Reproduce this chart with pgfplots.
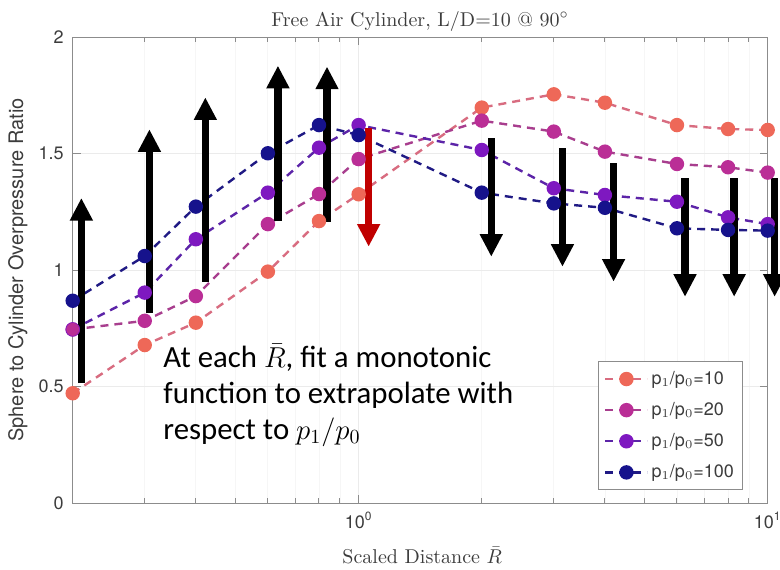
\documentclass[border=0pt]{standalone}
\usepackage{pgfplots}
\pgfplotsset{compat=1.18}
\usepackage{fontspec}
\usetikzlibrary{arrows.meta}
\newfontfamily\helv{TeX Gyre Heros}
\newfontfamily\calib{Carlito}

% marker fills and (slightly softer) line colours per pressure ratio
\definecolor{m10}{RGB}{238,104,88}
\definecolor{m20}{RGB}{186,46,150}
\definecolor{m50}{RGB}{126,24,192}
\definecolor{m100}{RGB}{22,18,140}
\definecolor{l10}{RGB}{216,108,128}
\definecolor{l20}{RGB}{168,62,142}
\definecolor{l50}{RGB}{92,36,168}
\definecolor{l100}{RGB}{32,26,132}
\definecolor{axgray}{RGB}{140,140,140}
\definecolor{txtgray}{RGB}{60,60,60}
\definecolor{arrowred}{RGB}{192,0,0}

% scaled distance vs. sphere/cylinder overpressure ratio
\pgfplotstableread{
R     p10    p20    p50    p100
0.2   0.471  0.745  0.745  0.868
0.3   0.678  0.782  0.903  1.060
0.4   0.774  0.888  1.132  1.272
0.6   0.993  1.197  1.332  1.501
0.8   1.210  1.326  1.525  1.622
1     1.325  1.476  1.622  1.579
2     1.697  1.641  1.515  1.332
3     1.754  1.594  1.351  1.286
4     1.718  1.508  1.322  1.267
6     1.622  1.455  1.293  1.179
8     1.605  1.441  1.226  1.172
10    1.601  1.418  1.197  1.169
}\ratios

\tikzset{
  bigarrow/.style={line width=3.7pt, -{Triangle[length=11.3pt,width=10.8pt]}},
}
\pgfplotsset{
  series/.style n args={2}{
    color=#1, line width=1.2pt, dash pattern=on 4pt off 3pt,
    mark=*, mark size=3pt, mark options={solid, draw=#2, fill=#2},
  },
  every axis title shift=0pt,
}

\begin{document}
\begin{tikzpicture}
\useasboundingbox (-36.35pt,-33pt) rectangle (353.65pt,251.5pt);
\begin{axis}[
  at={(0,0)}, anchor=south west,
  scale only axis, width=347.5pt, height=233pt,
  xmode=log, xmin=0.2, xmax=10, ymin=0, ymax=2,
  clip=false,
  axis line style={axgray, line width=0.5pt},
  tick style={axgray, line width=0.5pt},
  tick align=inside, tick pos=both,
  major tick length=4pt, minor tick length=2.5pt,
  xtick={1,10},
  xticklabels={10\textsuperscript{0},10\textsuperscript{1}},
  minor xtick={0.2,0.3,0.4,0.5,0.6,0.7,0.8,0.9,2,3,4,5,6,7,8,9},
  ytick={0,0.5,1,1.5,2},
  yticklabels={0,0.5,1,1.5,2},
  ticklabel style={font=\helv\fontsize{9}{10}\selectfont, text=txtgray},
  xticklabel style={yshift=-1pt},
  yticklabel style={xshift=-1pt},
  grid=both,
  major grid style={gray!16, line width=0.4pt},
  minor grid style={gray!7, line width=0.4pt},
  title={Free Air Cylinder, L/D=10 @ 90$^\circ$},
  title style={at={(axis description cs:0.5,1.0236)}, anchor=base,
    font=\fontsize{10}{12}\selectfont, text=txtgray},
  xlabel={Scaled Distance $\bar{R}$},
  xlabel style={at={(axis description cs:0.503,-0.13)}, anchor=base,
    font=\fontsize{10}{12}\selectfont, text=txtgray},
  ylabel={Sphere to Cylinder Overpressure Ratio},
  ylabel style={at={(axis description cs:-0.079,0.5)}, anchor=center,
    font=\helv\fontsize{10}{12}\selectfont, text=txtgray},
  legend style={at={(axis description cs:0.965,0.028)}, anchor=south east,
    draw=axgray, line width=0.5pt, fill=white,
    font=\helv\fontsize{9}{11}\selectfont, text=txtgray,
    row sep=4.5pt, inner sep=3pt,
    nodes={inner sep=1.5pt}},
  legend cell align=left,
  legend image code/.code={
    \draw[mark repeat=2, mark phase=2, #1]
      plot coordinates {(0pt,0pt) (10.5pt,0pt) (21pt,0pt)};
  },
]
\addplot[series={l10}{m10}]   table[x=R, y=p10]  {\ratios};
\addlegendentry{p$_1$/p$_0$=10}
\addplot[series={l20}{m20}]   table[x=R, y=p20]  {\ratios};
\addlegendentry{p$_1$/p$_0$=20}
\addplot[series={l50}{m50}]   table[x=R, y=p50]  {\ratios};
\addlegendentry{p$_1$/p$_0$=50}
\addplot[series={l100}{m100}] table[x=R, y=p100] {\ratios};
\addlegendentry{p$_1$/p$_0$=100}
% the p1/p0=20 point at the smallest distance sits over the p1/p0=50 one
\addplot[forget plot, only marks, mark=*, mark size=3pt,
  mark options={draw=m20, fill=m20}] coordinates {(0.2,0.745)};

% increasing trend with pressure ratio
\draw[bigarrow] (axis cs:0.21,0.515)  -- (axis cs:0.21,1.309);
\draw[bigarrow] (axis cs:0.308,0.814) -- (axis cs:0.308,1.604);
\draw[bigarrow] (axis cs:0.422,0.950) -- (axis cs:0.422,1.741);
\draw[bigarrow] (axis cs:0.635,1.212) -- (axis cs:0.635,1.877);
\draw[bigarrow] (axis cs:0.837,1.207) -- (axis cs:0.837,1.873);
% decreasing trend
\draw[bigarrow, arrowred] (axis cs:1.058,1.608) -- (axis cs:1.058,1.100);
\draw[bigarrow] (axis cs:2.11,1.565) -- (axis cs:2.11,1.057);
\draw[bigarrow] (axis cs:3.15,1.522) -- (axis cs:3.15,1.014);
\draw[bigarrow] (axis cs:4.20,1.458) -- (axis cs:4.20,0.950);
\draw[bigarrow] (axis cs:6.28,1.394) -- (axis cs:6.28,0.885);
\draw[bigarrow] (axis cs:8.28,1.394) -- (axis cs:8.28,0.885);
\draw[bigarrow] (axis cs:10.4,1.394) -- (axis cs:10.4,0.885);

\node[anchor=north west, inner sep=0pt, align=left,
  font=\calib\fontsize{15.4}{18}\selectfont]
  at (axis description cs:0.130,0.342)
  {At each {\fontsize{14}{18}\selectfont$\bar{R}$}, fit a monotonic\\function to extrapolate with\\respect to {\fontsize{14}{18}\selectfont$p_1/p_0$}};
\end{axis}
\end{tikzpicture}
\end{document}
